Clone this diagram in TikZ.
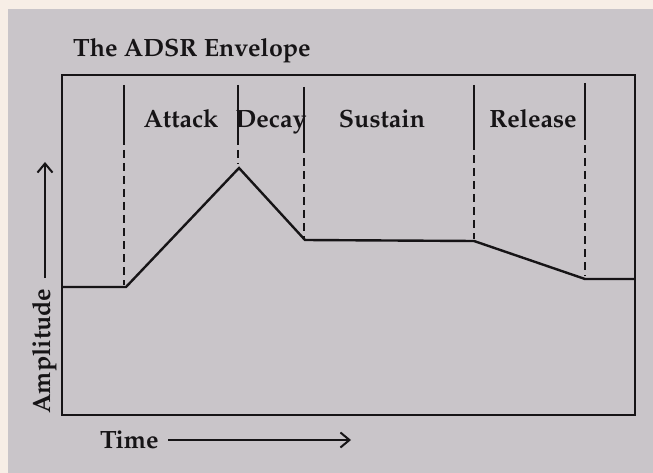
\documentclass[tikz,border=0pt]{standalone}
\usepackage[T1]{fontenc}
\usepackage{mathpazo}
\usetikzlibrary{arrows.meta}
\definecolor{cream}{RGB}{247,238,230}
\definecolor{bgc}{RGB}{201,197,201}
\definecolor{ink}{RGB}{22,20,22}
\tikzset{
  frame/.style={draw=ink, line width=2.6pt},
  env/.style={draw=ink, line width=2.4pt, line join=miter},
  solidpart/.style={draw=ink, line width=2.5pt},
  dashpart/.style={draw=ink, line width=2.5pt, dash pattern=on 8pt off 5pt},
  lbl/.style={font=\bfseries\fontsize{25}{28}\selectfont, text=ink, inner sep=0pt},
  ttl/.style={font=\bfseries\fontsize{25}{28}\selectfont, text=ink, inner sep=0pt},
  axarrow/.style={draw=ink, line width=2pt, -{Straight Barb[length=9pt,width=15pt,line width=2pt]}}
}
\begin{document}
\begin{tikzpicture}[x=1pt,y=-1pt]
\useasboundingbox (0,0) rectangle (653,473);
\fill[cream] (0,0) rectangle (653,473);
\fill[bgc] (8,9) rectangle (653,473);

% title
\node[ttl, anchor=base west] (title) at (73,57) {The ADSR Envelope};

% frame
\draw[frame] (62,75) rectangle (635,415);

% envelope points
\coordinate (p0) at (62,287);
\coordinate (p1) at (126,287);
\coordinate (p2) at (239,168);
\coordinate (p3) at (305,240);
\coordinate (p4) at (474,241);
\coordinate (p5) at (585,279);
\coordinate (p6) at (635,279);
\draw[env] (p0) -- (p1) -- (p2) -- (p3) -- (p4) -- (p5) -- (p6);

% divider lines: solid top, dashed below
\coordinate (d1t) at (124,85);  \coordinate (d1m) at (124,137); \coordinate (d1b) at (124,285);
\coordinate (d2t) at (238,85);  \coordinate (d2m) at (238,137); \coordinate (d2b) at (238,164);
\coordinate (d3t) at (304,87);  \coordinate (d3m) at (304,145); \coordinate (d3b) at (304,238);
\coordinate (d4t) at (474,85);  \coordinate (d4m) at (474,142); \coordinate (d4b) at (474,239);
\coordinate (d5t) at (585,83);  \coordinate (d5m) at (585,132); \coordinate (d5b) at (585,276);
\foreach \i in {1,...,5}{
  \draw[solidpart] (d\i t) -- (d\i m);
  \draw[dashpart] (d\i m) -- (d\i b);
}

% phase labels
\node[lbl, anchor=base] (attack)  at (181,128) {Attack};
\node[lbl, anchor=base] (decay)   at (271,128) {Decay};
\node[lbl, anchor=base] (sustain) at (382,128) {Sustain};
\node[lbl, anchor=base] (release) at (533,128) {Release};

% axes labels
\node[ttl, anchor=base west] (time) at (100,448) {Time};
\coordinate (ts) at (168,440);
\coordinate (te) at (351,440);
\draw[axarrow] (ts) -- (te);

\node[ttl, rotate=90, anchor=base] (amp) at (50,351) {Amplitude};
\coordinate (as) at (45,278);
\coordinate (ae) at (45,162);
\draw[axarrow] (as) -- (ae);
\end{tikzpicture}
\end{document}
